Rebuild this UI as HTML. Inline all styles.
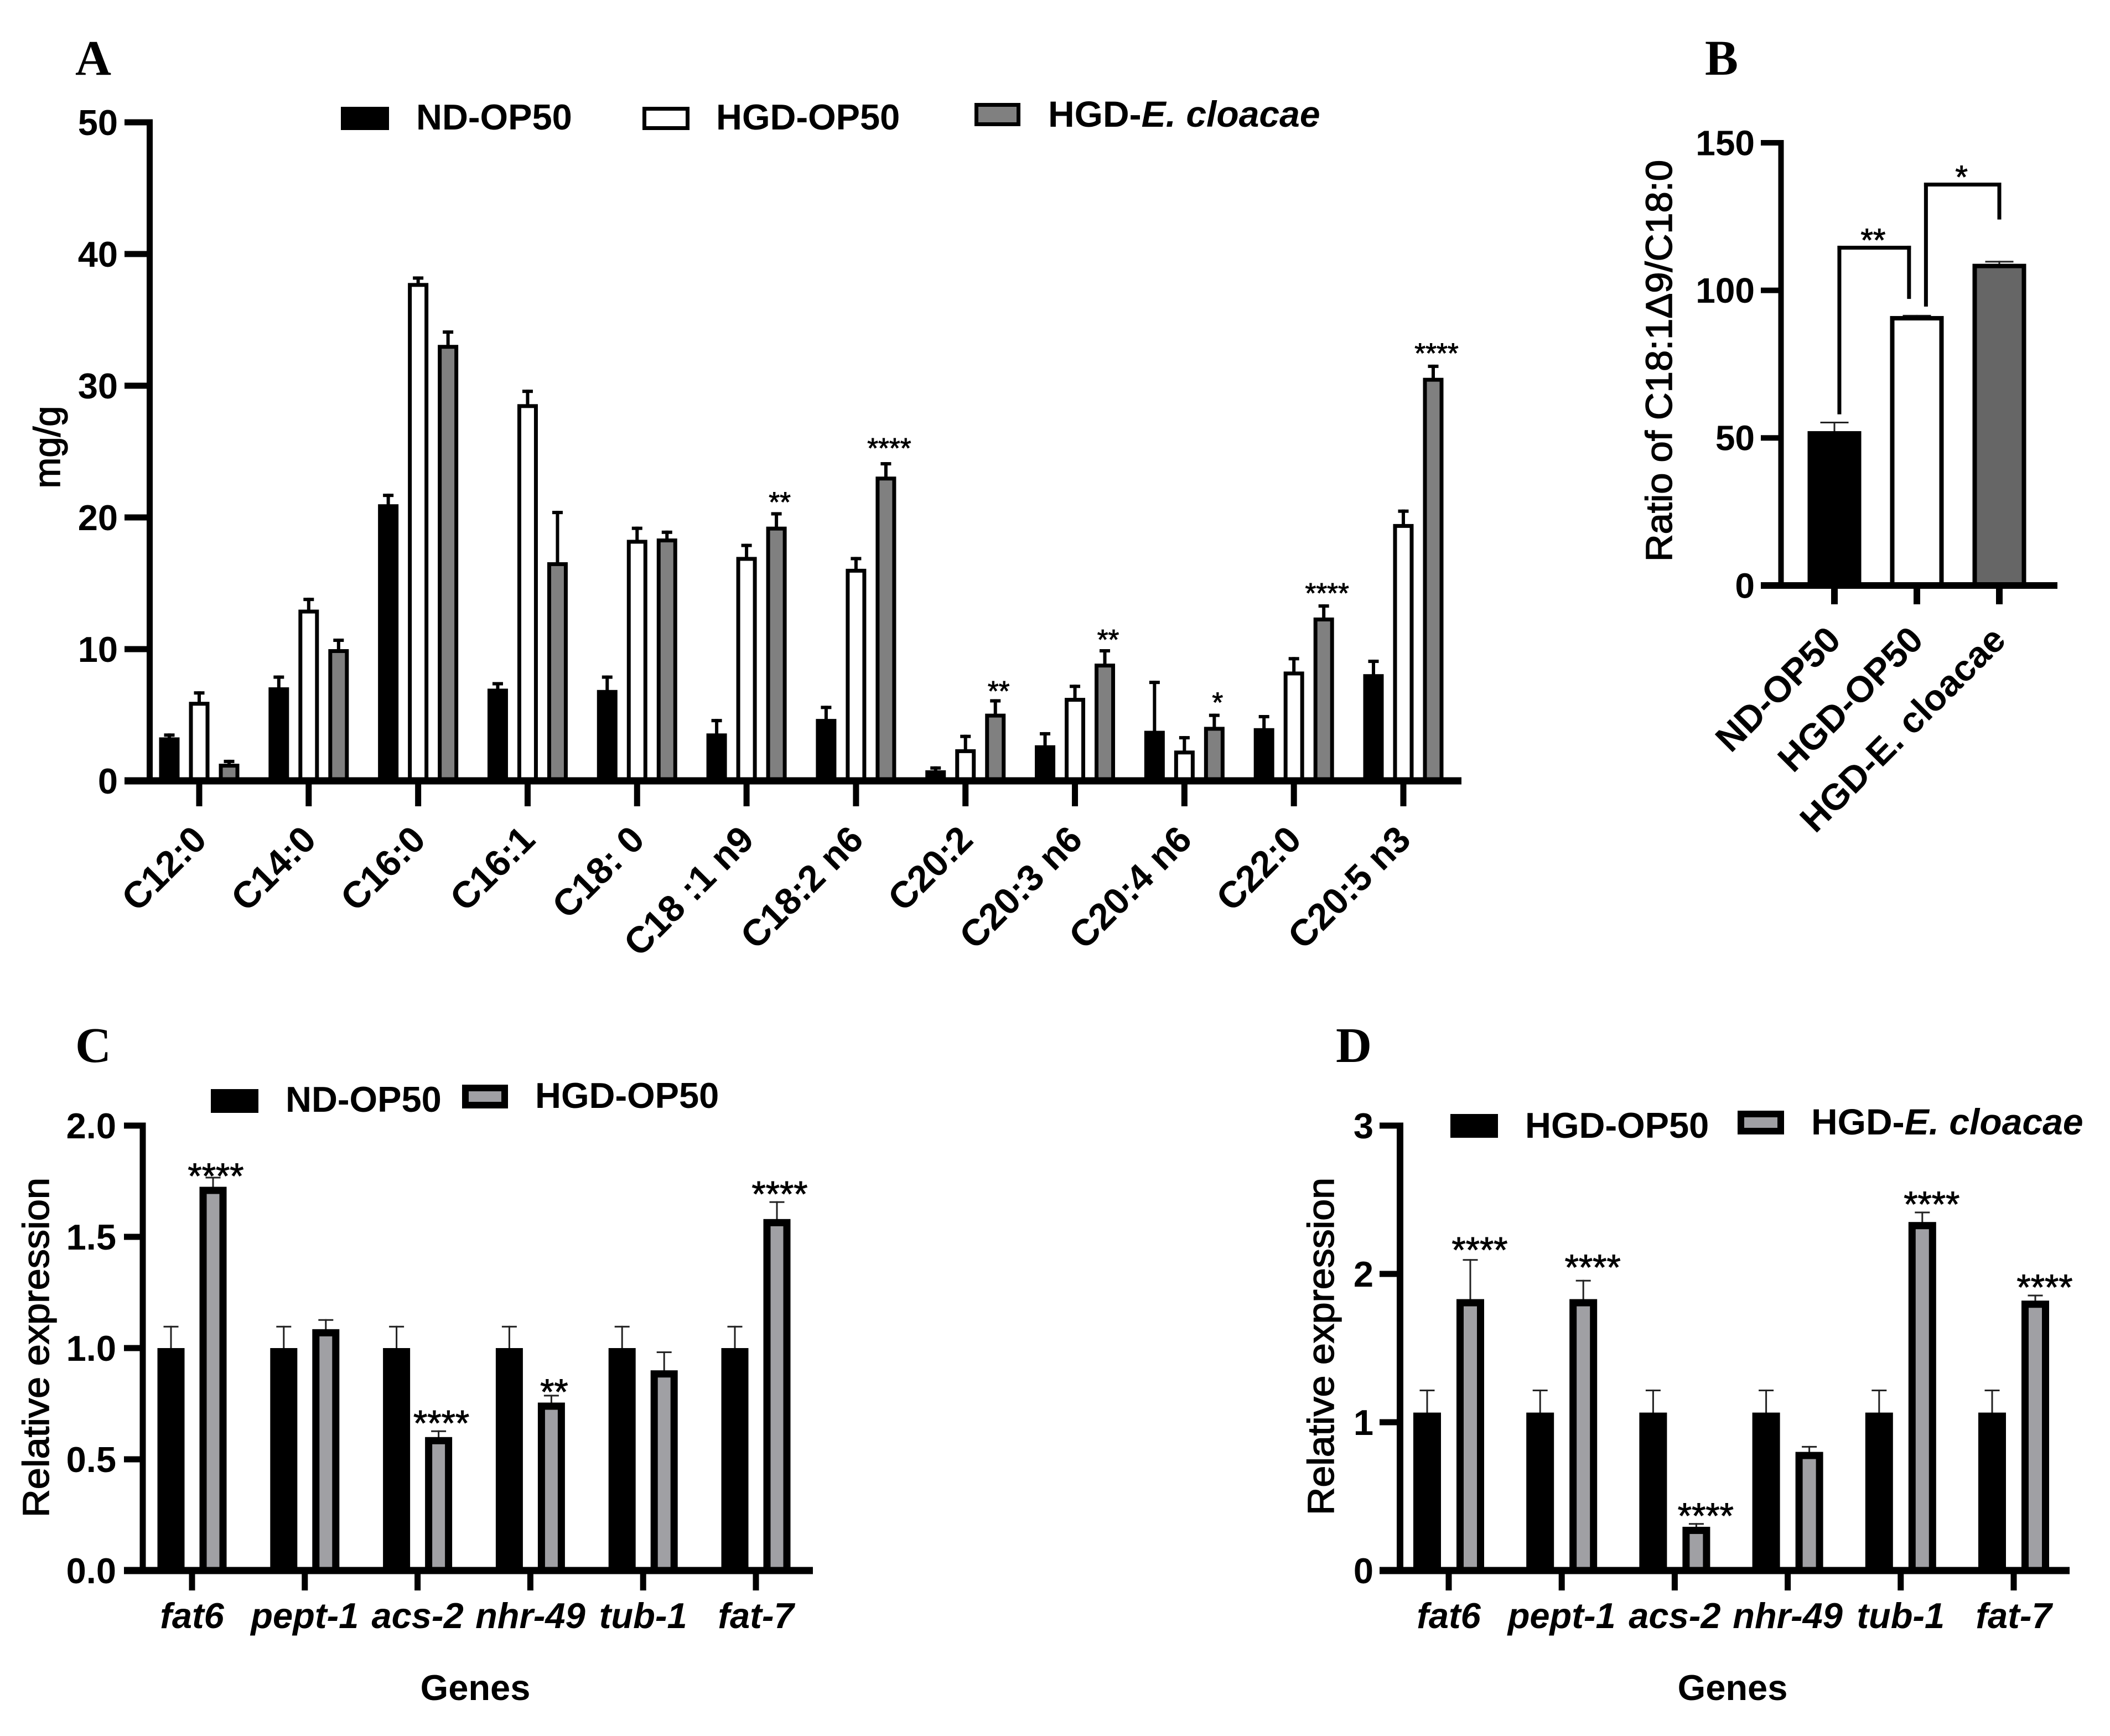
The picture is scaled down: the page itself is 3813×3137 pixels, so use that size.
<!DOCTYPE html>
<html lang="en">
<head>
<meta charset="utf-8">
<title>Fatty acid and gene expression bar charts</title>
<style>
html,body{margin:0;padding:0;background:#fff;}
#figure{display:block;width:3813px;height:3137px;background:#fff;}
text{font-family:"Liberation Sans",sans-serif;fill:#000;}
.panel-letter{font-family:"Liberation Serif",serif;font-weight:bold;font-size:90px;}
.bold{font-weight:bold;font-size:65px;}
.ylab{font-size:67px;stroke:#000;stroke-width:1.5px;}
</style>
</head>
<body>
<svg id="figure" xmlns="http://www.w3.org/2000/svg" width="3813" height="3137" viewBox="0 0 3813 3137">
  <text class="panel-letter" x="136" y="135">A</text>
  <text class="panel-letter" x="3081" y="135">B</text>
  <text class="panel-letter" x="136" y="1919">C</text>
  <text class="panel-letter" x="2414" y="1919">D</text>

  <g>
    <rect x="616" y="193" width="87" height="42" fill="#000"/>
    <text class="bold" x="752" y="234">ND-OP50</text>
    <rect x="1164.5" y="196.5" width="78" height="35" fill="#fff" stroke="#000" stroke-width="7"/>
    <text class="bold" x="1294" y="234">HGD-OP50</text>
    <rect x="1764.5" y="189.5" width="76" height="35" fill="#808080" stroke="#000" stroke-width="7"/>
    <text class="bold" x="1894" y="229" style="font-size:66px">HGD-<tspan font-style="italic">E. cloacae</tspan></text>
  </g>

  <g>
    <rect x="381" y="1968" width="86" height="43" fill="#000"/>
    <text class="bold" x="516" y="2009">ND-OP50</text>
    <rect x="841" y="1966" width="71" height="31" fill="#a0a0a4" stroke="#000" stroke-width="12"/>
    <text class="bold" x="967" y="2002">HGD-OP50</text>
  </g>

  <g>
    <rect x="2621" y="2013" width="86" height="43" fill="#000"/>
    <text class="bold" x="2756" y="2056">HGD-OP50</text>
    <rect x="3146" y="2013" width="72" height="31" fill="#a0a0a4" stroke="#000" stroke-width="12"/>
    <text class="bold" x="3273" y="2050" style="font-size:66px">HGD-<tspan font-style="italic">E. cloacae</tspan></text>
  </g>

  <text class="ylab" transform="translate(108,808) rotate(-90)" text-anchor="middle">mg/g</text>
  <text class="ylab" transform="translate(3021,652) rotate(-90)" text-anchor="middle" textLength="726" lengthAdjust="spacingAndGlyphs">Ratio of C18:1Δ9/C18:0</text>
  <text class="ylab" transform="translate(88,2435) rotate(-90)" text-anchor="middle" textLength="614" lengthAdjust="spacingAndGlyphs">Relative expression</text>
  <text class="ylab" transform="translate(2410,2433) rotate(-90)" text-anchor="middle" textLength="610" lengthAdjust="spacingAndGlyphs">Relative expression</text>
  <text class="bold" x="859" y="3072" text-anchor="middle">Genes</text>
  <text class="bold" x="3131" y="3072" text-anchor="middle">Genes</text>
</svg>

<script>
/* Panel A data */
const categoriesA = ['C12:0','C14:0','C16:0','C16:1','C18: 0','C18 :1 n9','C18:2 n6','C20:2','C20:3 n6','C20:4 n6','C22:0','C20:5 n3'];
const ndOp50A     = [3.3, 7.1, 21.0, 7.0, 6.9, 3.6, 4.7, 0.8, 2.7, 3.8, 4.0, 8.1];
const ndOp50ErrA  = [0.3, 0.9, 0.8, 0.5, 1.1, 1.1, 1.0, 0.3, 1.0, 3.8, 1.0, 1.1];
const hgdOp50A    = [6.0, 13.0, 37.8, 28.6, 18.3, 17.0, 16.1, 2.4, 6.3, 2.3, 8.3, 19.5];
const hgdOp50ErrA = [0.8, 0.9, 0.5, 1.1, 1.0, 1.0, 0.9, 1.1, 1.0, 1.1, 1.1, 1.1];
const cloacaeA    = [1.3, 10.0, 33.1, 16.6, 18.4, 19.3, 23.1, 5.1, 8.9, 4.1, 12.4, 30.6];
const cloacaeErrA = [0.3, 0.8, 1.1, 3.9, 0.6, 1.1, 1.1, 1.1, 1.1, 1.0, 1.0, 1.0];
const sigLabelsA  = ['','','','','','**','****','**','**','*','****','****'];
const sigLevelsA  = [0,0,0,0,0,21.4,25.5,7.06,10.97,6.2,14.5,32.7];
const yTicksA     = [0,10,20,30,40,50];
const yTickLabelsA = ['0','10','20','30','40','50'];

/* Panel B data */
const categoriesB = ['ND-OP50','HGD-OP50','HGD-E. cloacae'];
const valuesB     = [52.3, 91.3, 109];
const errorsB     = [3.2, 0.4, 1.0];
const yTicksB     = [0,50,100,150];
const yTickLabelsB = ['0','50','100','150'];
const bracketLabelsB = ['**','*'];
const bracketLevelsB = [115.1, 136.5];
const bracketLeftEndsB = [58, 94.5];
const bracketRightEndsB = [97.1, 124];

/* Panel C data */
const categoriesC = ['fat6','pept-1','acs-2','nhr-49','tub-1','fat-7'];
const ndOp50C     = [1.0, 1.0, 1.0, 1.0, 1.0, 1.0];
const ndOp50ErrC  = [0.1, 0.1, 0.1, 0.1, 0.1, 0.1];
const hgdOp50C    = [1.725, 1.085, 0.6, 0.755, 0.9, 1.58];
const hgdOp50ErrC = [0.045, 0.045, 0.03, 0.035, 0.085, 0.08];
const sigLabelsC  = ['****','','****','**','','****'];
const sigLevelsC  = [1.79,0,0.68,0.82,0,1.71];
const yTicksC     = [0,0.5,1,1.5,2];
const yTickLabelsC = ['0.0','0.5','1.0','1.5','2.0'];

/* Panel D data */
const categoriesD = ['fat6','pept-1','acs-2','nhr-49','tub-1','fat-7'];
const hgdOp50D    = [1.065, 1.065, 1.065, 1.065, 1.065, 1.065];
const hgdOp50ErrD = [0.155, 0.155, 0.155, 0.155, 0.155, 0.155];
const cloacaeD    = [1.83, 1.83, 0.295, 0.8, 2.35, 1.82];
const cloacaeErrD = [0.27, 0.13, 0.025, 0.04, 0.07, 0.04];
const sigLabelsD  = ['****','****','****','','****','****'];
const sigLevelsD  = [2.187,2.07,0.395,0,2.496,1.936];
const yTicksD     = [0,1,2,3];
const yTickLabelsD = ['0','1','2','3'];

const SVGNS = 'http://www.w3.org/2000/svg';
const root = document.getElementById('figure');

function linear(d0, d1, r0, r1) {
  return function (v) { return r0 + (v - d0) * (r1 - r0) / (d1 - d0); };
}
function group(name) {
  const g = document.createElementNS(SVGNS, 'g');
  
  
  root.appendChild(g);
  return g;
}
function box(parent, name, x0, y0, x1, y1, fill) {
  const r = document.createElementNS(SVGNS, 'rect');
  
  
  r.setAttribute('x', x0);
  r.setAttribute('y', y0);
  r.setAttribute('width', x1 - x0);
  r.setAttribute('height', y1 - y0);
  r.setAttribute('fill', fill);
  parent.appendChild(r);
  return r;
}
function label(parent, name, str, x, y, size, weight, style, anchor, rotate) {
  const t = document.createElementNS(SVGNS, 'text');
  
  
  t.setAttribute('font-size', size);
  t.setAttribute('font-weight', weight);
  t.setAttribute('font-style', style);
  t.setAttribute('text-anchor', anchor);
  if (rotate) {
    t.setAttribute('transform', 'translate(' + x + ',' + y + ') rotate(' + rotate + ')');
  } else {
    t.setAttribute('x', x);
    t.setAttribute('y', y);
  }
  t.textContent = str;
  parent.appendChild(t);
  return t;
}
function slug(s) {
  return s.toLowerCase().replace(/[^a-z0-9]+/g, '-').replace(/^-|-$/g, '');
}
/* Outlined or solid bar; the outline is drawn inside the bar's outer edges */
function bar(parent, name, cx, w, yTop, yBase, fill, sw) {
  box(parent, name, cx - w / 2, yTop, cx + w / 2, yBase, '#000');
  if (sw > 0) {
    box(parent, name + '-fill', cx - w / 2 + sw, yTop + sw, cx + w / 2 - sw, yBase, fill);
  }
}
function errorBar(parent, name, cx, yTop, yBar, capW, capH, stem, color) {
  box(parent, name + '-stem', cx - stem / 2, yTop, cx + stem / 2, yBar, color);
  box(parent, name + '-cap', cx - capW / 2, yTop, cx + capW / 2, yTop + capH, color);
}
function axes(parent, cfg, y, ticks, tickLabels, xs) {
  box(parent, 'y-axis-line', cfg.axisX - cfg.axisW / 2, y(ticks[ticks.length - 1]) - cfg.tickH / 2, cfg.axisX + cfg.axisW / 2, y(0), '#000');
  box(parent, 'x-axis-line', cfg.left, y(0) - cfg.xAxisH / 2, cfg.right, y(0) + cfg.xAxisH / 2, '#000');
  ticks.forEach(function (t, i) {
    box(parent, 'y-tick-' + tickLabels[i], cfg.left, y(t) - cfg.tickH / 2, cfg.axisX, y(t) + cfg.tickH / 2, '#000');
    label(parent, 'y-tick-label-' + tickLabels[i], tickLabels[i], cfg.labelRight, y(t) + cfg.fontSize * 0.35, cfg.fontSize, 'bold', 'normal', 'end', 0);
  });
  xs.forEach(function (x, i) {
    box(parent, 'x-tick-' + i, x - cfg.xTickW / 2, y(0), x + cfg.xTickW / 2, cfg.xTickBottom, '#000');
  });
}
function stars(parent, name, str, x, yCenter, size) {
  const t = label(parent, name, str, x, yCenter + size * 0.45, size, 'normal', 'normal', 'middle', 0);
  t.setAttribute('stroke', '#000');
  t.setAttribute('stroke-width', '1');
}

/* Panel A */
(function () {
  const g = group('chart-a');
  const y = linear(0, 50, 1411, 221);
  const xGroup = linear(0, 11, 360, 2536);
  const xs = categoriesA.map(function (c, i) { return xGroup(i); });
  const seriesA = [
    { key: 'nd-op50', v: ndOp50A, e: ndOp50ErrA, dx: -54, fill: '#000', sw: 0 },
    { key: 'hgd-op50', v: hgdOp50A, e: hgdOp50ErrA, dx: 0, fill: '#fff', sw: 7 },
    { key: 'hgd-e-cloacae', v: cloacaeA, e: cloacaeErrA, dx: 54, fill: '#808080', sw: 7 }
  ];
  seriesA.forEach(function (s) {
    s.v.forEach(function (v, i) {
      const n = s.key + '-' + slug(categoriesA[i]);
      errorBar(g, 'error-' + n, xs[i] + s.dx, y(v + s.e[i]), y(v) + 2, 19, 6, 6, '#000');
      bar(g, 'bar-' + n, xs[i] + s.dx, 37, y(v), y(0), s.fill, s.sw);
    });
  });
  axes(g, { axisX: 270.5, axisW: 11, left: 225, right: 2641, tickH: 11, xAxisH: 13, labelRight: 213, fontSize: 65, xTickW: 11, xTickBottom: 1457 }, y, yTicksA, yTickLabelsA, xs);
  categoriesA.forEach(function (c, i) {
    label(g, 'x-tick-label-' + slug(c), c, xs[i] + 17, 1521, 67, 'bold', 'normal', 'end', -45);
    if (sigLabelsA[i]) {
      stars(g, 'significance-' + slug(c), sigLabelsA[i], xs[i] + 60, y(sigLevelsA[i]), 51);
    }
  });
})();

/* Panel B */
(function () {
  const g = group('chart-b');
  const y = linear(0, 150, 1058, 258);
  const xBar = linear(0, 2, 3315, 3613);
  const xs = categoriesB.map(function (c, i) { return xBar(i); });
  const fillsB = ['#000', '#fff', '#666'];
  valuesB.forEach(function (v, i) {
    const n = slug(categoriesB[i]);
    errorBar(g, 'error-' + n, xs[i], y(v + errorsB[i]), y(v) + 2, 51, 3, 3, '#222');
    bar(g, 'bar-' + n, xs[i], 97, y(v), y(0), fillsB[i], i === 0 ? 0 : 8);
  });
  axes(g, { axisX: 3218.5, axisW: 10, left: 3182, right: 3718, tickH: 10, xAxisH: 12, labelRight: 3171, fontSize: 64, xTickW: 12, xTickBottom: 1092 }, y, yTicksB, yTickLabelsB, xs);
  categoriesB.forEach(function (c, i) {
    label(g, 'x-tick-label-' + slug(c), c, xs[i] + 15, 1160, 66, 'bold', 'normal', 'end', -45);
  });
  const xData = linear(0, 2, xs[0], xs[2]);
  [[xData(0.06), xData(0.905)], [xData(1.11), xData(2)]].forEach(function (ends, i) {
    const top = y(bracketLevelsB[i]);
    const nm = 'significance-bracket-' + (i + 1);
    box(g, nm + '-left', ends[0] - 3.5, top, ends[0] + 3.5, y(bracketLeftEndsB[i]), '#000');
    box(g, nm + '-top', ends[0] - 3.5, top, ends[1] + 3.5, top + 7, '#000');
    box(g, nm + '-right', ends[1] - 3.5, top, ends[1] + 3.5, y(bracketRightEndsB[i]), '#000');
    stars(g, nm + '-label', bracketLabelsB[i], (ends[0] + ends[1]) / 2 - 2, top - 16, 58);
  });
})();

/* Panels C and D share the same two-series layout */
function twoSeries(chartName, cfg, cats, a, aErr, b, bErr, sig, sigLv, ticks, tickLabels) {
  const g = group(chartName);
  const y = linear(ticks[0], ticks[ticks.length - 1], 2838, 2034);
  const xGroup = linear(0, 5, cfg.x0, cfg.x5);
  const xs = cats.map(function (c, i) { return xGroup(i); });
  cats.forEach(function (c, i) {
    const n = slug(c);
    errorBar(g, 'error-black-' + n, xs[i] - cfg.offset, y(a[i] + aErr[i]), y(a[i]) + 2, 27, 3, 3, '#222');
    bar(g, 'bar-black-' + n, xs[i] - cfg.offset, cfg.barW, y(a[i]), y(0), '#000', 0);
    errorBar(g, 'error-gray-' + n, xs[i] + cfg.offset, y(b[i] + bErr[i]), y(b[i]) + 2, 27, 3, 3, '#222');
    bar(g, 'bar-gray-' + n, xs[i] + cfg.offset, cfg.barW, y(b[i]), y(0), '#a0a0a4', 13);
    if (sig[i]) {
      stars(g, 'significance-' + n, sig[i], xs[i] + cfg.offset + cfg.sigDx, y(sigLv[i]), 65);
    }
    label(g, 'x-tick-label-' + n, c, xs[i], 2942, 65, 'bold', 'italic', 'middle', 0);
  });
  axes(g, cfg, y, ticks, tickLabels, xs);
}
twoSeries('chart-c', { x0: 347, x5: 1366, offset: 38, barW: 49, sigDx: 5, axisX: 258, axisW: 11, left: 224, right: 1469, tickH: 11, xAxisH: 13, labelRight: 210, fontSize: 65, xTickW: 11, xTickBottom: 2874 },
  categoriesC, ndOp50C, ndOp50ErrC, hgdOp50C, hgdOp50ErrC, sigLabelsC, sigLevelsC, yTicksC, yTickLabelsC);
twoSeries('chart-d', { x0: 2618, x5: 3639, offset: 39, barW: 50, sigDx: 17, axisX: 2530, axisW: 12, left: 2493, right: 3740, tickH: 11, xAxisH: 13, labelRight: 2482, fontSize: 65, xTickW: 11, xTickBottom: 2874 },
  categoriesD, hgdOp50D, hgdOp50ErrD, cloacaeD, cloacaeErrD, sigLabelsD, sigLevelsD, yTicksD, yTickLabelsD);
</script>
</body>
</html>
